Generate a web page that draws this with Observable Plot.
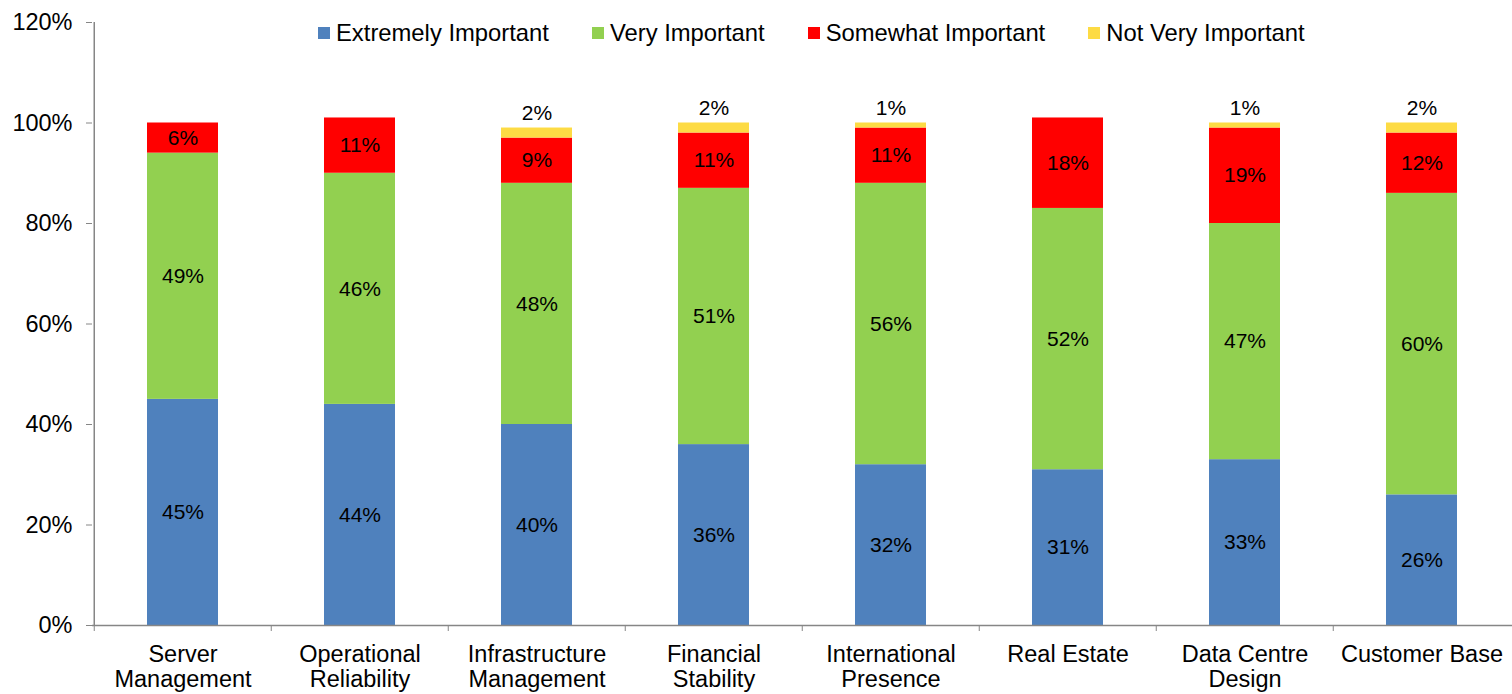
<!DOCTYPE html>
<html>
<head>
<meta charset="utf-8">
<script src="https://cdn.jsdelivr.net/npm/d3@7"></script>
<script src="https://cdn.jsdelivr.net/npm/@observablehq/plot@0.6"></script>
<style>
  html, body { margin: 0; padding: 0; background: #fff; }
  #wrap { position: relative; width: 1512px; height: 694px; font-family: "Liberation Sans", Arial, sans-serif; }
  #legend { position: absolute; top: 20px; left: 318px; display: flex; gap: 43px; font-size: 23.8px; color: #000; line-height: 26px; }
  .item { display: flex; align-items: center; gap: 6px; white-space: nowrap; }
  .sw { width: 12px; height: 12px; display: inline-block; }
</style>
</head>
<body>
<div id="wrap"><div id="legend"></div></div>
<script>
const categories = ["Server Management", "Operational Reliability", "Infrastructure Management", "Financial Stability", "International Presence", "Real Estate", "Data Centre Design", "Customer Base"];
const categoryLabels = ["Server\nManagement", "Operational\nReliability", "Infrastructure\nManagement", "Financial\nStability", "International\nPresence", "Real Estate", "Data Centre\nDesign", "Customer Base"];
const seriesNames = ["Extremely Important", "Very Important", "Somewhat Important", "Not Very Important"];
const seriesColors = ["#4F81BD", "#92D050", "#FF0000", "#FDDB44"];
const extremely = [45, 44, 40, 36, 32, 31, 33, 26];
const very = [49, 46, 48, 51, 56, 52, 47, 60];
const somewhat = [6, 11, 9, 11, 11, 18, 19, 12];
const notVery = [0, 0, 2, 2, 1, 0, 1, 2];
const yTicks = [0, 20, 40, 60, 80, 100, 120];

const seriesValues = [extremely, very, somewhat, notVery];
const rows = [];
categories.forEach((c, i) => {
  seriesNames.forEach((s, j) => rows.push({category: c, series: s, value: seriesValues[j][i]}));
});
const labelOf = new Map(categories.map((c, i) => [c, categoryLabels[i]]));
const last = seriesNames[seriesNames.length - 1];

const W = 1512, H = 694, mL = 92, mR = 0, mT = 22, mB = 69;
const half = (W - mL - mR) / categories.length / 2;
const gray = "#868686";
const font = "'Liberation Sans', Arial, sans-serif";

const chart = Plot.plot({
  width: W, height: H,
  marginLeft: mL, marginRight: mR, marginTop: mT, marginBottom: mB,
  style: {fontFamily: font, fontSize: "23.5px", color: "#000", background: "#fff"},
  x: {domain: categories, paddingInner: 0.6, paddingOuter: 0.3, axis: null, label: null},
  y: {domain: [0, 120], axis: null, label: null},
  color: {domain: seriesNames, range: seriesColors},
  marks: [
    Plot.barY(rows, {x: "category", y: "value", fill: "series", order: seriesNames, filter: d => d.value > 0}),
    Plot.text(rows, Plot.stackY({x: "category", y: "value", z: "series", order: seriesNames,
      text: d => (d.series !== last && d.value > 0) ? d.value + "%" : null,
      fontSize: 21, fill: "#000"})),
    Plot.text(rows, Plot.stackY2({x: "category", y: "value", z: "series", order: seriesNames,
      text: d => (d.series === last && d.value > 0) ? d.value + "%" : null,
      fontSize: 21, fill: "#000", dy: -15})),
    Plot.ruleY([0], {stroke: gray, strokeWidth: 1.5}),
    Plot.ruleX([categories[0]], {y1: 0, y2: 120, dx: -half, stroke: gray, strokeWidth: 1.5}),
    Plot.axisY({ticks: yTicks, tickFormat: d => d + "%", tickSize: 6, tickPadding: 14, stroke: gray, fill: "#000", fontSize: 23.5, label: null}),
    Plot.axisX({tickSize: 6, tickFormat: () => "", dx: -half, stroke: gray, label: null}),
    Plot.axisX({tickSize: 0, tickPadding: 19, tickFormat: d => labelOf.get(d), lineHeight: 1.07, fill: "#000", fontSize: 23.5, label: null})
  ]
});
document.getElementById("wrap").prepend(chart);
chart.style.display = "block";

const legend = document.getElementById("legend");
seriesNames.forEach((s, i) => {
  const it = document.createElement("div");
  it.className = "item";
  const sw = document.createElement("span");
  sw.className = "sw";
  sw.style.background = seriesColors[i];
  const t = document.createElement("span");
  t.textContent = s;
  it.append(sw, t);
  legend.append(it);
});
</script>
</body>
</html>
